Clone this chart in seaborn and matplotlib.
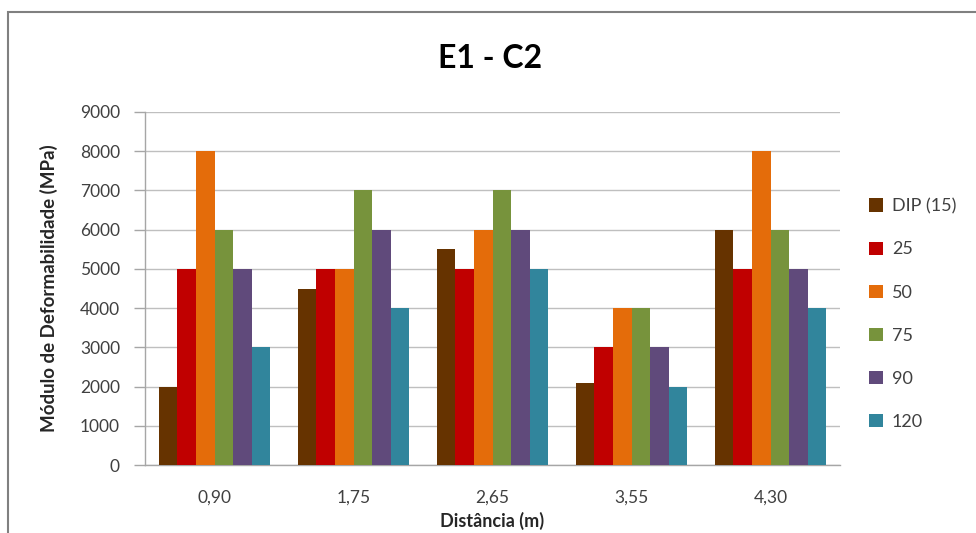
import matplotlib
matplotlib.use("Agg")
import matplotlib.pyplot as plt
import seaborn as sns
import pandas as pd
from matplotlib.patches import Rectangle

distancias = ["0,90", "1,75", "2,65", "3,55", "4,30"]
series = ["DIP (15)", "25", "50", "75", "90", "120"]
dip15 = [2000, 4500, 5500, 2100, 6000]
s25 = [5000, 5000, 5000, 3000, 5000]
s50 = [8000, 5000, 6000, 4000, 8000]
s75 = [6000, 7000, 7000, 4000, 6000]
s90 = [5000, 6000, 6000, 3000, 5000]
s120 = [3000, 4000, 5000, 2000, 4000]
colors = ["#663300", "#C00000", "#E46C0A", "#77933C", "#604A7B", "#31859C"]
yticks = [0, 1000, 2000, 3000, 4000, 5000, 6000, 7000, 8000, 9000]

vals = [dip15, s25, s50, s75, s90, s120]
rows = []
for name, v in zip(series, vals):
    for d, y in zip(distancias, v):
        rows.append({"Distância": d, "Série": name, "Valor": y})
df = pd.DataFrame(rows)

sns.set_theme(style="white")
plt.rcParams["font.family"] = ["Lato", "DejaVu Sans"]

fig = plt.figure(figsize=(9.76, 5.33), dpi=100)
ax = fig.add_axes([145/976, 1-465/533, (840-145)/976, (465-112)/533])

sns.barplot(data=df, x="Distância", y="Valor", hue="Série", hue_order=series,
            order=distancias, palette=colors, saturation=1, width=0.8,
            edgecolor="none", linewidth=0, ax=ax, zorder=3)

ax.set_ylim(0, 9000)
ax.set_yticks(yticks)
ax.set_yticklabels([str(t) for t in yticks], fontsize=12.5, color="#404040")
ax.tick_params(axis="x", labelsize=12.5, labelcolor="#404040", length=0, pad=18)
ax.tick_params(axis="y", length=8, color="#A6A6A6", width=1, direction="out", left=True, pad=10)
ax.yaxis.grid(True, color="#BFBFBF", linewidth=1, zorder=0)
ax.set_axisbelow(True)
for s in ["top", "right"]:
    ax.spines[s].set_visible(False)
for s in ["left", "bottom"]:
    ax.spines[s].set_color("#A6A6A6")
    ax.spines[s].set_linewidth(1)

ax.set_xlabel("Distância (m)", fontsize=13, fontweight="bold", color="#262626", labelpad=4)
ax.set_ylabel("Módulo de Deformabilidade (MPa)", fontsize=13.5, fontweight="bold", color="#262626", labelpad=16)

fig.text(490/976, 1-59/533, "E1 - C2", ha="center", va="center", fontsize=23, fontweight="bold", color="#000000")

handles, labels = ax.get_legend_handles_labels()
ax.legend(handles, labels, loc="upper left", bbox_to_anchor=(853/976, 1-182/533),
          bbox_transform=fig.transFigure, frameon=False, fontsize=13,
          handlelength=0.75, handleheight=0.75, handletextpad=0.5, labelspacing=1.5,
          labelcolor="#404040")

fig.patches.append(Rectangle((8/976, -0.1), 1.2, 1-12/533+0.1, transform=fig.transFigure,
                             fill=False, edgecolor="#808080", linewidth=1.5, zorder=10))

fig.savefig("out.png", dpi=100)
